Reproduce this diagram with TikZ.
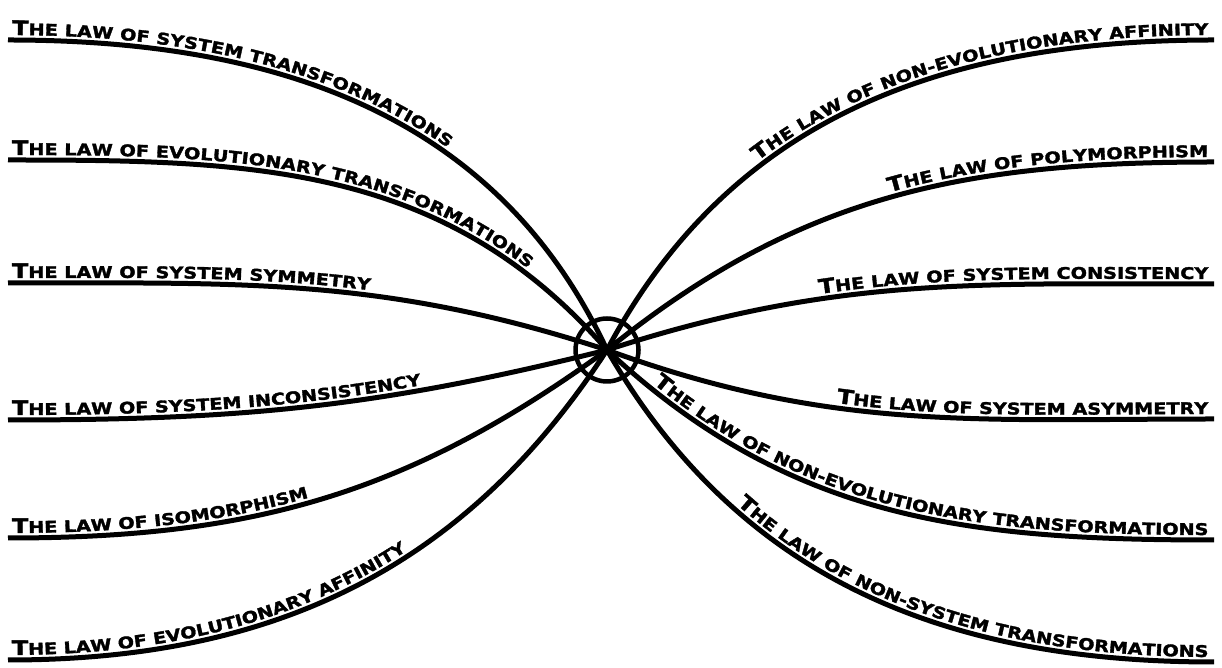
\documentclass[tikz,border=0pt]{standalone}
\usepackage{fontspec}
\newfontfamily\lawfont[FakeStretch=1.2,FakeBold=2]{DejaVu Sans Bold}
\usetikzlibrary{decorations.text}
\newcommand\lawbig{\lawfont\fontsize{20}{20}\selectfont}
\newcommand\lawsmall{\lawfont\fontsize{16}{16}\selectfont}
\tikzset{
  lawline/.style={line width=5pt},
  lawleft/.style={postaction={decorate,decoration={text along path,raise=5pt,
    text align={left indent=4pt},text={#1}}}},
  lawright/.style={postaction={decorate,decoration={text along path,raise=5pt,
    text align={right,right indent=6pt},text={#1}}}}
}
\begin{document}
\begin{tikzpicture}[x=1pt,y=1pt]
\useasboundingbox (0,0) rectangle (1222,668);
\node[circle,draw,line width=4.5pt,minimum size=63pt,inner sep=0pt] (hub) at (607,318) {};
% left ends
\coordinate (L1) at (8,628);
\coordinate (L2) at (8,508);
\coordinate (L3) at (8,385);
\coordinate (L4) at (8,248);
\coordinate (L5) at (8,130);
\coordinate (L6) at (8,8);
% right ends
\coordinate (R1) at (1214,628);
\coordinate (R2) at (1214,506);
\coordinate (R3) at (1214,384);
\coordinate (R4) at (1214,249);
\coordinate (R5) at (1214,128);
\coordinate (R6) at (1214,6);
% left laws
\draw[lawline,lawleft={|\lawbig|T|\lawsmall|HE LAW OF SYSTEM TRANSFORMATIONS}]
  (L1) to[out=0,in=115] (hub.center);
\draw[lawline,lawleft={|\lawbig|T|\lawsmall|HE LAW OF EVOLUTIONARY TRANSFORMATIONS}]
  (L2) to[out=0,in=131] (hub.center);
\draw[lawline,lawleft={|\lawbig|T|\lawsmall|HE LAW OF SYSTEM SYMMETRY}]
  (L3) to[out=0,in=162] (hub.center);
\draw[lawline,lawleft={|\lawbig|T|\lawsmall|HE LAW OF SYSTEM INCONSISTENCY}]
  (L4) to[out=0,in=-166] (hub.center);
\draw[lawline,lawleft={|\lawbig|T|\lawsmall|HE LAW OF ISOMORPHISM}]
  (L5) to[out=0,in=-144] (hub.center);
\draw[lawline,lawleft={|\lawbig|T|\lawsmall|HE LAW OF EVOLUTIONARY AFFINITY}]
  (L6) to[out=0,in=-123] (hub.center);
% right laws
\draw[lawline,lawright={|\lawbig|T|\lawsmall|HE LAW OF NON-EVOLUTIONARY AFFINITY}]
  (hub.center) to[out=62,in=180] (R1);
\draw[lawline,lawright={|\lawbig|T|\lawsmall|HE LAW OF POLYMORPHISM}]
  (hub.center) to[out=39,in=180] (R2);
\draw[lawline,lawright={|\lawbig|T|\lawsmall|HE LAW OF SYSTEM CONSISTENCY}]
  (hub.center) to[out=18,in=180] (R3);
\draw[lawline,lawright={|\lawbig|T|\lawsmall|HE LAW OF SYSTEM ASYMMETRY}]
  (hub.center) to[out=-20,in=180] (R4);
\draw[lawline,lawright={|\lawbig|T|\lawsmall|HE LAW OF NON-EVOLUTIONARY TRANSFORMATIONS}]
  (hub.center) to[out=-43,in=180] (R5);
\draw[lawline,lawright={|\lawbig|T|\lawsmall|HE LAW OF NON-SYSTEM TRANSFORMATIONS}]
  (hub.center) to[out=-60,in=180] (R6);
\end{tikzpicture}
\end{document}
